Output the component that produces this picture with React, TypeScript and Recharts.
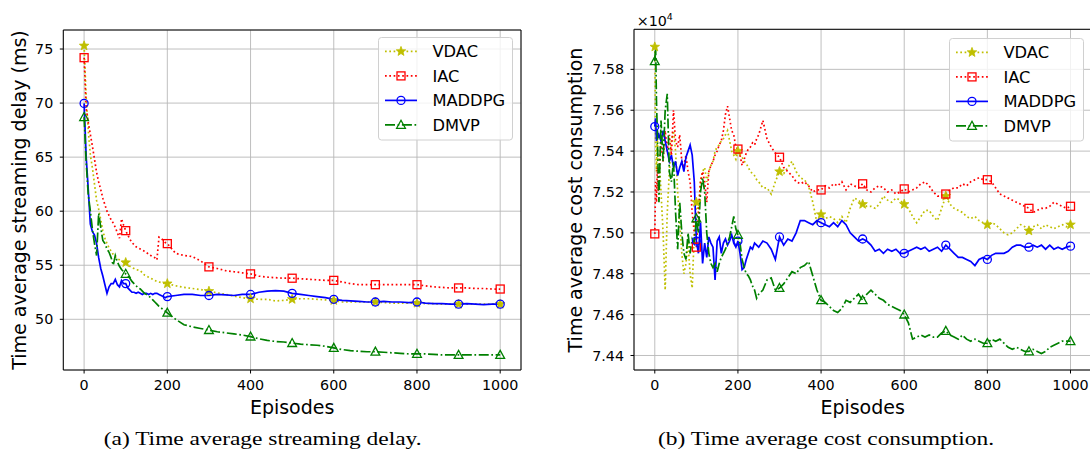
import { LineChart, Line, XAxis, YAxis, CartesianGrid, Legend, ReferenceArea } from "recharts";

// (a) time average streaming delay (ms)
const delayEpisodes = [
  0, 5, 10, 15, 20, 25, 30, 35, 40, 45, 50, 55, 60, 65, 70, 75, 80, 85, 90, 95, 100,
  105, 110, 115, 120, 125, 130, 135, 140, 145, 150, 155, 160, 165, 170, 175, 180, 185, 190, 195, 200,
  220, 240, 260, 280, 300, 320, 340, 360, 380, 400, 420, 440, 460, 480, 500, 520, 540, 560, 580, 600,
  620, 640, 660, 680, 700, 720, 740, 760, 780, 800, 820, 840, 860, 880, 900, 920, 940, 960, 980, 1000,
];
const delayVDAC = [
  75.3, 70.5, 67.5, 65.2, 64.0, 62.5, 61.0, 60.2, 59.2, 58.2, 57.5, 57.0, 56.6, 56.3, 56.0, 55.8, 55.6, 55.5, 55.4, 55.3, 55.25,
  55.1, 54.9, 54.8, 54.7, 54.6, 54.55, 54.5, 54.3, 54.1, 54.0, 53.9, 53.8, 53.7, 53.6, 53.5, 53.45, 53.4, 53.35, 53.3, 53.3,
  53.1, 52.95, 52.85, 52.75, 52.6, 52.45, 52.3, 52.15, 52.0, 51.9, 51.85, 51.85, 51.7, 51.75, 51.85, 51.9, 51.9, 51.85, 51.8, 51.75,
  51.6, 51.6, 51.6, 51.6, 51.6, 51.55, 51.5, 51.5, 51.5, 51.5, 51.45, 51.45, 51.4, 51.4, 51.4, 51.4, 51.4, 51.4, 51.4, 51.4,
];
const delayIAC = [
  74.2, 69.5, 68.2, 67.1, 66.0, 64.8, 63.6, 62.7, 62.0, 61.2, 60.6, 60.0, 59.6, 59.2, 58.9, 58.5, 58.0, 57.5, 59.3, 58.7, 58.2,
  57.8, 57.4, 57.1, 56.9, 56.7, 56.6, 56.5, 56.4, 56.3, 56.2, 56.0, 55.9, 55.8, 55.7, 55.5, 57.6, 57.5, 57.3, 57.1, 57.0,
  56.1, 55.9, 55.8, 55.4, 54.85, 54.7, 54.5, 54.4, 54.3, 54.2, 54.0, 53.9, 53.85, 53.8, 53.8, 53.75, 53.7, 53.65, 53.6, 53.6,
  53.45, 53.3, 53.2, 53.2, 53.2, 53.2, 53.2, 53.2, 53.2, 53.2, 53.1, 53.0, 52.95, 52.9, 52.9, 52.9, 52.85, 52.85, 52.8, 52.8,
];
const delayMADDPG = [
  69.97, 65.0, 62.0, 58.8, 58.1, 57.8, 57.0, 55.7, 54.7, 54.0, 53.2, 52.4, 53.0, 53.3, 53.3, 53.7, 53.2, 53.0, 53.6, 53.3, 53.3,
  52.9, 52.7, 52.5, 52.5, 52.4, 52.5, 52.4, 52.3, 52.4, 52.4, 52.3, 52.4, 52.3, 52.4, 52.4, 52.3, 52.2, 52.1, 52.0, 52.1,
  52.2, 52.3, 52.3, 52.2, 52.2, 52.3, 52.25, 52.2, 52.3, 52.3, 52.5, 52.6, 52.65, 52.6, 52.4, 52.3, 52.2, 52.1, 52.0, 51.85,
  51.75, 51.7, 51.65, 51.6, 51.6, 51.65, 51.6, 51.6, 51.55, 51.6, 51.5, 51.45, 51.45, 51.4, 51.4, 51.45, 51.4, 51.35, 51.4, 51.4,
];
const delayDMVP = [
  68.7, 64.5, 61.5, 60.0, 58.3, 57.0, 55.9, 59.8, 58.5, 57.3, 57.0, 56.5, 56.2, 55.7, 55.0, 55.9, 55.3, 54.9, 54.6, 54.4, 54.2,
  54.0, 53.8, 53.5, 53.3, 53.1, 52.9, 52.8, 52.6, 52.4, 52.3, 52.15, 52.0, 51.8, 51.6, 51.4, 51.2, 51.05, 50.9, 50.75, 50.6,
  50.0, 49.5, 49.3, 49.15, 49.0, 48.85, 48.75, 48.65, 48.55, 48.4, 48.2, 48.05, 47.95, 47.9, 47.8, 47.7, 47.65, 47.6, 47.5, 47.35,
  47.2, 47.1, 47.05, 47.0, 47.0, 46.95, 46.9, 46.85, 46.8, 46.8, 46.8, 46.75, 46.7, 46.7, 46.7, 46.7, 46.7, 46.7, 46.7, 46.7,
];

// (b) time average cost consumption
const costEpisodes = [
  0, 2, 4, 6, 8, 10, 15, 20, 25, 30, 35, 40, 45, 50, 55, 60, 65, 70, 75, 80, 85, 90, 95, 100,
  105, 110, 115, 120, 125, 130, 135, 140, 145, 150, 155, 160, 165, 170, 175, 180, 185, 190, 195, 200,
  205, 210, 215, 220, 225, 230, 235, 240, 245, 250,
  260, 270, 280, 290, 300, 310, 320, 330, 340, 350, 360, 370, 380, 390, 400, 410, 420, 430, 440, 450,
  460, 470, 480, 490, 500, 510, 520, 530, 540, 550, 560, 570, 580, 590, 600, 610, 620, 630, 640, 650,
  660, 670, 680, 690, 700, 710, 720, 730, 740, 750, 760, 770, 780, 790, 800, 810, 820, 830, 840, 850,
  860, 870, 880, 890, 900, 910, 920, 930, 940, 950, 960, 970, 980, 990, 1000,
];
const costVDAC = [
  75910, 75450, 75300, 75480, 75350, 75380, 75200, 75000, 74720, 75100, 75300, 75450, 75500, 75400, 75200, 75050, 74900, 74800, 74850, 74950, 74800, 74730, 75000, 75150,
  75100, 75250, 75300, 75320, 75250, 75300, 75330, 75350, 75400, 75420, 75430, 75450, 75460, 75480, 75500, 75450, 75400, 75380, 75360, 75400,
  75380, 75370, 75350, 75340, 75320, 75300, 75290, 75280, 75260, 75250,
  75220, 75220, 75190, 75250, 75300, 75290, 75320, 75350, 75300, 75270, 75260, 75230, 75150, 75050, 75090, 75070, 75080, 75070, 75050, 75080,
  75050, 75120, 75170, 75160, 75140, 75130, 75130, 75120, 75140, 75180, 75160, 75150, 75170, 75160, 75140, 75120, 75080, 75050, 75080, 75110,
  75110, 75080, 75060, 75120, 75180, 75140, 75120, 75110, 75100, 75080, 75070, 75080, 75060, 75050, 75040, 75050, 75040, 75020, 75000, 74990,
  75000, 75020, 75040, 75030, 75010, 75030, 75040, 75020, 75040, 75030, 75020, 75030, 75040, 75030, 75040,
];
const costIAC = [
  74995, 75250, 75150, 75320, 75200, 75280, 75450, 75350, 75500, 75400, 75480, 75380, 75600, 75450, 75420, 75480, 75350, 75330, 75380, 75300, 75250, 75100, 75000, 74930,
  75100, 75250, 75300, 75250, 75150, 75300, 75330, 75350, 75380, 75400, 75430, 75450, 75500, 75580, 75620, 75560, 75500, 75480, 75420, 75410,
  75380, 75330, 75360, 75390, 75410, 75420, 75440, 75430, 75460, 75480,
  75550, 75460, 75420, 75390, 75370, 75320, 75300, 75280, 75250, 75240, 75250, 75230, 75200, 75210, 75210, 75230, 75220, 75240, 75230, 75250,
  75210, 75240, 75230, 75220, 75240, 75210, 75200, 75220, 75230, 75220, 75200, 75210, 75190, 75200, 75215, 75200, 75210, 75220, 75240, 75250,
  75230, 75200, 75180, 75180, 75190, 75210, 75220, 75220, 75240, 75230, 75250, 75260, 75270, 75260, 75260, 75250, 75220, 75190, 75180, 75170,
  75160, 75150, 75140, 75130, 75120, 75100, 75110, 75120, 75120, 75130, 75150, 75140, 75130, 75120, 75130,
];
const costMADDPG = [
  75520, 75560, 75450, 75500, 75470, 75480, 75450, 75500, 75450, 75400, 75350, 75380, 75320, 75350, 75280, 75320, 75350, 75300, 75370, 75400, 75430, 75380, 75250, 74960,
  74900, 75050, 74850, 74950, 74880, 74980, 74950, 74930, 74770, 74960, 74980, 74900, 74950, 74970, 74940, 74960, 74990, 74950, 74930, 74960,
  74900, 74820, 74830, 74870, 74900, 74930, 74920, 74950, 74940, 74930,
  74960, 74950, 74920, 74870, 74980, 74940, 74970, 74960, 75000, 75060, 75060, 75050, 75040, 75060, 75050, 75040, 75030, 75050, 75030, 75060,
  75040, 75000, 74980, 74960, 74970, 74960, 74940, 74910, 74920, 74900, 74920, 74910, 74920, 74900, 74900, 74910, 74920, 74930, 74920, 74930,
  74910, 74920, 74930, 74910, 74940, 74920, 74900, 74880, 74880, 74870, 74860, 74840, 74870, 74880, 74870, 74890, 74900, 74900, 74900, 74910,
  74930, 74940, 74940, 74930, 74930, 74940, 74930, 74940, 74920, 74940, 74920, 74930, 74920, 74930, 74935,
];
const costDMVP = [
  75840, 75920, 75650, 75500, 75300, 75150, 75550, 75350, 75600, 75680, 75300, 75250, 75350, 75100, 74920, 75150, 75000, 74900, 74870, 75000, 74900, 74970, 74950, 75070,
  75000, 75200, 75270, 75200, 75000, 74900, 74850, 74830, 74850, 74810, 74850, 74880, 74900, 74920, 74950, 74980, 75030, 75080, 75020, 74990,
  74950, 74870, 74830, 74800, 74790, 74770, 74740, 74720, 74680, 74700,
  74720, 74770, 74780, 74720, 74730, 74750, 74780, 74810, 74800, 74830, 74840, 74860, 74790, 74720, 74670, 74660, 74640, 74620, 74610, 74630,
  74670, 74660, 74680, 74700, 74670, 74700, 74720, 74700, 74680, 74670, 74650, 74640, 74630, 74620, 74600, 74560, 74480, 74490, 74500, 74490,
  74500, 74490, 74490, 74510, 74520, 74500, 74490, 74480, 74500, 74480, 74470, 74480, 74470, 74460, 74460, 74480, 74470, 74480, 74460, 74440,
  74430, 74440, 74430, 74420, 74420, 74430, 74420, 74410, 74420, 74440, 74450, 74460, 74470, 74470, 74470,
];

const episodeTicks = [0, 200, 400, 600, 800, 1000];
const delayTicks = [50, 55, 60, 65, 70, 75];
const costTicks = [74400, 74600, 74800, 75000, 75200, 75400, 75600, 75800];
const methods = ["VDAC", "IAC", "MADDPG", "DMVP"];

const delayData = delayEpisodes.map((episode, i) => ({
  episode,
  VDAC: delayVDAC[i],
  IAC: delayIAC[i],
  MADDPG: delayMADDPG[i],
  DMVP: delayDMVP[i],
}));
const costData = costEpisodes.map((episode, i) => ({
  episode,
  VDAC: costVDAC[i],
  IAC: costIAC[i],
  MADDPG: costMADDPG[i],
  DMVP: costDMVP[i],
}));

const LW = 1.7;
const look: Record<string, { color: string; dash?: string; marker: string }> = {
  VDAC: { color: "#bfbf00", dash: "1.7 2.6", marker: "star" },
  IAC: { color: "#ff0000", dash: "1.7 2.6", marker: "square" },
  MADDPG: { color: "#0000ff", marker: "circle" },
  DMVP: { color: "#008000", dash: "10 2.6 1.7 2.6", marker: "triangle" },
};

const FONT = "DejaVu Sans";

function Marker({ kind, x, y, color }: { kind: string; x: number; y: number; color: string }) {
  if (kind === "star") {
    const pts: string[] = [];
    for (let i = 0; i < 10; i++) {
      const r = i % 2 === 0 ? 5 : 2.1;
      const a = -Math.PI / 2 + (i * Math.PI) / 5;
      pts.push(`${x + r * Math.cos(a)},${y + r * Math.sin(a)}`);
    }
    return <polygon points={pts.join(" ")} fill={color} stroke={color} strokeWidth={0.8} />;
  }
  if (kind === "square") {
    return <rect x={x - 4} y={y - 4} width={8} height={8} fill="none" stroke={color} strokeWidth={1.3} />;
  }
  if (kind === "circle") {
    return <circle cx={x} cy={y} r={4} fill="none" stroke={color} strokeWidth={1.3} />;
  }
  return (
    <polygon
      points={`${x},${y - 4.6} ${x + 4.4},${y + 3.4} ${x - 4.4},${y + 3.4}`}
      fill="none"
      stroke={color}
      strokeWidth={1.3}
    />
  );
}

// markers only every 100 episodes
const markEvery = (kind: string, color: string) => (props: any) => {
  const { cx, cy, payload, index } = props;
  if (!payload || payload.episode % 100 !== 0 || cx == null || cy == null) {
    return <g key={`d-${index}`} />;
  }
  return (
    <g key={`d-${index}`}>
      <Marker kind={kind} x={cx} y={cy} color={color} />
    </g>
  );
};

const LegendBox = () => (
  <svg width={136} height={104} style={{ display: "block" }}>
    <rect x={0.5} y={0.5} width={134} height={102.5} rx={3} fill="#ffffff" fillOpacity={0.8} stroke="#d0d0d0" />
    {methods.map((m, i) => {
      const y = 14.4 + i * 24.5;
      const s = look[m];
      return (
        <g key={m}>
          <line x1={7} x2={39} y1={y} y2={y} stroke={s.color} strokeWidth={LW} strokeDasharray={s.dash} />
          <Marker kind={s.marker} x={23} y={y} color={s.color} />
          <text x={54.4} y={y + 5.9} fontSize={16.3} fontFamily={FONT} fill="#000">
            {m}
          </text>
        </g>
      );
    })}
  </svg>
);

const tickStyle = { fontSize: 14.3, fontFamily: FONT, fill: "#000" };

function Panel(props: {
  data: any[];
  width: number;
  yWidth: number;
  top: number;
  right: number;
  yDomain: [number, number];
  yTicks: number[];
  yFormat: (v: number) => string;
  yTitle: string;
  yTitleX: number;
  legendLeft: number;
  legendTop: number;
}) {
  const { data, width, yWidth, top, right, yDomain, yTicks, yFormat, yTitle, yTitleX } = props;
  const xMid = (yWidth + width - right) / 2;
  return (
    <LineChart width={width} height={451} data={data} margin={{ top, right, bottom: 36, left: 0 }}>
      <CartesianGrid stroke="#b8b8b8" strokeWidth={0.9} />
      <XAxis
        dataKey="episode"
        type="number"
        domain={[-50, 1050]}
        ticks={episodeTicks}
        allowDataOverflow
        height={45}
        tickSize={3.5}
        tickMargin={6.3}
        axisLine={false}
        tickLine={{ stroke: "#000" }}
        tick={tickStyle}
        label={() => (
          <text x={xMid} y={413.5} textAnchor="middle" fontSize={19} fontFamily={FONT} fill="#000">
            Episodes
          </text>
        )}
      />
      <YAxis
        type="number"
        domain={yDomain}
        ticks={yTicks}
        allowDataOverflow
        width={yWidth}
        tickSize={3.5}
        tickMargin={6.5}
        axisLine={false}
        tickLine={{ stroke: "#000" }}
        tick={tickStyle}
        tickFormatter={yFormat}
        label={() => (
          <text
            x={yTitleX}
            y={200}
            transform={`rotate(-90 ${yTitleX} 200)`}
            textAnchor="middle"
            fontSize={19}
            fontFamily={FONT}
            fill="#000"
          >
            {yTitle}
          </text>
        )}
      />
      {methods.map((m) => (
        <Line
          key={m}
          dataKey={m}
          type="linear"
          stroke={look[m].color}
          strokeWidth={LW}
          strokeDasharray={look[m].dash}
          dot={markEvery(look[m].marker, look[m].color)}
          activeDot={false}
          isAnimationActive={false}
        />
      ))}
      <ReferenceArea
        x1={-50}
        x2={1050}
        y1={yDomain[0]}
        y2={yDomain[1]}
        fill="none"
        fillOpacity={0}
        stroke="#000"
        strokeWidth={1}
      />
      <Legend
        layout="vertical"
        align="center"
        verticalAlign="middle"
        content={() => <LegendBox />}
        wrapperStyle={{ left: props.legendLeft, top: props.legendTop, width: 136, height: 104 }}
      />
    </LineChart>
  );
}

export default function App() {
  return (
    <div
      style={{
        position: "absolute",
        left: 0,
        top: 0,
        width: 1090,
        height: 451,
        overflow: "hidden",
        background: "#fff",
      }}
    >
      <div style={{ position: "absolute", left: 0, top: 0 }}>
        <Panel
          data={delayData}
          width={545}
          yWidth={63.3}
          top={30}
          right={24}
          yDomain={[45.31, 76.76]}
          yTicks={delayTicks}
          yFormat={(v) => String(v)}
          yTitle="Time average streaming delay (ms)"
          yTitleX={26}
          legendLeft={378}
          legendTop={37}
        />
      </div>
      <div style={{ position: "absolute", left: 545, top: 0 }}>
        <Panel
          data={costData}
          width={575}
          yWidth={89}
          top={29.3}
          right={28.7}
          yDomain={[74329, 75996]}
          yTicks={costTicks}
          yFormat={(v) => (v / 10000).toFixed(2)}
          yTitle="Time average cost consumption"
          yTitleX={36.5}
          legendLeft={404}
          legendTop={38}
        />
      </div>
      <svg
        width={1090}
        height={451}
        style={{ position: "absolute", left: 0, top: 0, pointerEvents: "none" }}
      >
        <text x={636.7} y={25.5} fontSize={14.3} fontFamily={FONT} fill="#000">
          ×10
          <tspan dy={-6} fontSize={9.5}>
            4
          </tspan>
        </text>
        <text
          x={103.7}
          y={445}
          fontSize={19.5}
          fontFamily="Liberation Serif"
          fill="#000"
          textLength={318}
          lengthAdjust="spacingAndGlyphs"
        >
          (a) Time average streaming delay.
        </text>
        <text
          x={658}
          y={445}
          fontSize={19.5}
          fontFamily="Liberation Serif"
          fill="#000"
          textLength={336}
          lengthAdjust="spacingAndGlyphs"
        >
          (b) Time average cost consumption.
        </text>
      </svg>
    </div>
  );
}
